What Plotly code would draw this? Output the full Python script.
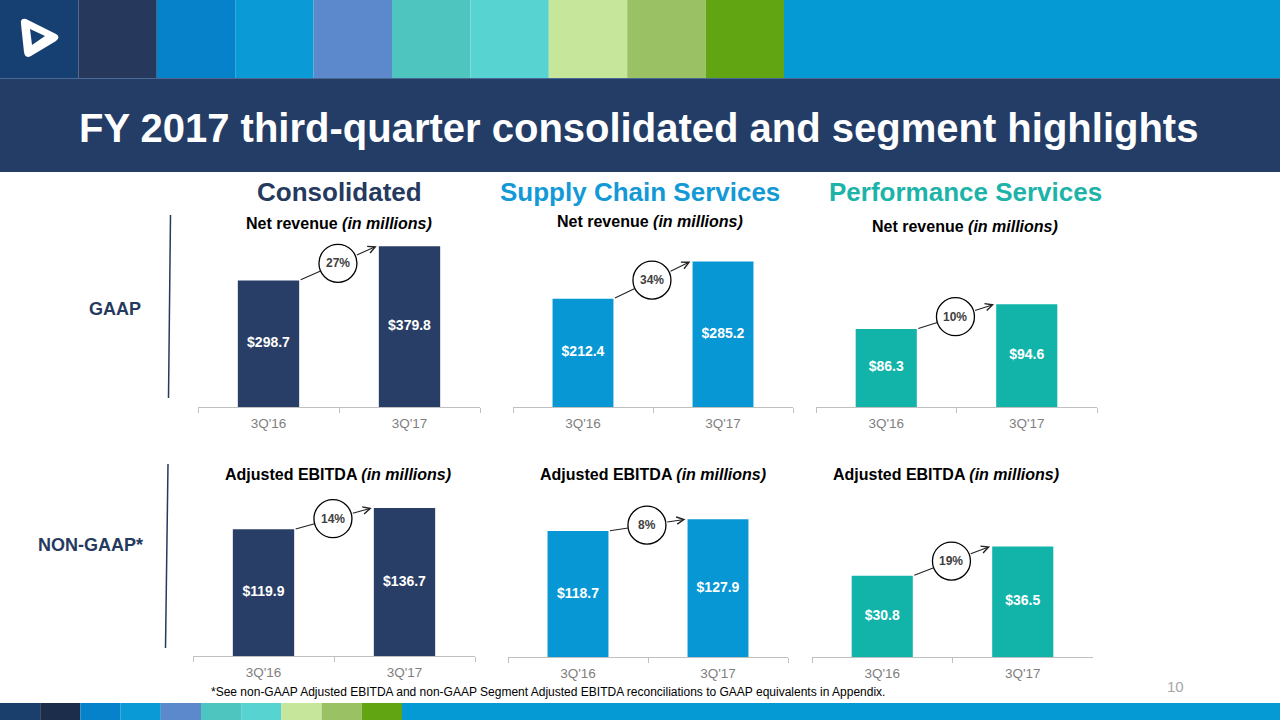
import plotly.graph_objects as go

W, H = 1280, 720

# ---------------- data ----------------
quarters = ["3Q'16", "3Q'17"]
consolidated_revenue = [298.7, 379.8]
scs_revenue = [212.4, 285.2]
ps_revenue = [86.3, 94.6]
consolidated_ebitda = [119.9, 136.7]
scs_ebitda = [118.7, 127.9]
ps_ebitda = [30.8, 36.5]
revenue_growth = ["27%", "34%", "10%"]
ebitda_growth = ["14%", "8%", "19%"]
section_titles = ["Consolidated", "Supply Chain Services", "Performance Services"]
row_labels = ["GAAP", "NON-GAAP*"]
title_text = "FY 2017 third-quarter consolidated and segment highlights"
footnote_text = ("*See non-GAAP Adjusted EBITDA and non-GAAP Segment Adjusted EBITDA "
                 "reconciliations to GAAP equivalents in Appendix.")
page_number = "10"

# ---------------- styles ----------------
FONT = "Liberation Sans, Arial, sans-serif"
NAVY = "#283e66"
BLUE = "#0797d5"
TEAL = "#12b4aa"
HEADER_NAVY = "#253a5e"
STRIPE = ["#174072", "#26395c", "#0582ca", "#0a9bd6", "#5c88cc",
          "#4fc5bf", "#57d4d1", "#c6e69c", "#9ac163", "#62a513"]
STRIPE_END = "#069ad5"


def px(x):
    return x / W


def py(y):
    return 1 - y / H


# (values, growth label, colour, x-domain px, y-domain px (top, bottom), y-range)
panels = [
    (consolidated_revenue, revenue_growth[0], NAVY, (198, 480), (240, 407), (0, 394.3)),
    (scs_revenue, revenue_growth[1], BLUE, (513, 793), (240, 407), (0, 327.5)),
    (ps_revenue, revenue_growth[2], TEAL, (816, 1097), (240, 407), (60, 116.3)),
    (consolidated_ebitda, ebitda_growth[0], NAVY, (193, 475), (495, 656), (20, 147.0)),
    (scs_ebitda, ebitda_growth[1], BLUE, (508, 788), (495, 657), (20, 146.9)),
    (ps_ebitda, ebitda_growth[2], TEAL, (812, 1093), (495, 657), (15, 46.5)),
]

BAR_W = 0.435
R = 19  # circle radius px

fig = go.Figure()
layout = dict(
    width=W, height=H, margin=dict(l=0, r=0, t=0, b=0),
    paper_bgcolor="white", plot_bgcolor="rgba(0,0,0,0)",
    showlegend=False, font=dict(family=FONT),
)
shapes = []
annotations = []

for i, (vals, growth, color, (xa, xb), (yt, yb), yr) in enumerate(panels):
    n = "" if i == 0 else str(i + 1)
    xref, yref = "x" + n, "y" + n
    fig.add_trace(go.Bar(
        x=quarters, y=vals, width=BAR_W, marker=dict(color=color, line=dict(width=0)),
        xaxis=xref, yaxis=yref, hovertemplate="%{x}: $%{y:.1f}<extra></extra>",
    ))
    lo = max(yr[0], 0)
    fig.add_trace(go.Scatter(
        x=quarters, y=[(lo + v) / 2 for v in vals], mode="text",
        text=["<b>$%.1f</b>" % v for v in vals],
        textfont=dict(family=FONT, size=14, color="white"),
        xaxis=xref, yaxis=yref, hoverinfo="skip",
    ))
    layout["xaxis" + n] = dict(
        domain=[px(xa), px(xb)], anchor=yref, type="category", range=[-0.5, 1.5],
        showline=True, linecolor="#c0c0c0", linewidth=1,
        ticks="outside", tickson="boundaries", ticklen=5, tickcolor="#c0c0c0",
        ticklabelstandoff=4,
        tickfont=dict(family=FONT, size=13.5, color="#7f7f7f"),
        showgrid=False, zeroline=False, fixedrange=True,
    )
    layout["yaxis" + n] = dict(
        domain=[py(yb), py(yt)], anchor=xref, range=list(yr), visible=False,
        showgrid=False, zeroline=False, fixedrange=True,
    )
    # growth circle + arrows
    sx, sy = BAR_W / 2, vals[0]
    tx, ty = 1 - BAR_W / 2 - 0.015, vals[1]
    cx, cy = (sx + tx) / 2, (sy + ty) / 2
    shapes.append(dict(type="circle", xref=xref, yref=yref, xsizemode="pixel",
                       ysizemode="pixel", xanchor=cx, yanchor=cy,
                       x0=-R, x1=R, y0=-R, y1=R, fillcolor="white",
                       line=dict(color="black", width=1.3), layer="above"))
    annotations.append(dict(x=cx, y=cy, xref=xref, yref=yref, text="<b>%s</b>" % growth,
                            showarrow=False, font=dict(family=FONT, size=12, color="#404040")))
    annotations.append(dict(x=cx, y=cy, xref=xref, yref=yref, ax=sx, ay=sy,
                            axref=xref, ayref=yref, text="", showarrow=True,
                            arrowhead=0, arrowwidth=1.1, arrowcolor="#222222", standoff=R))
    annotations.append(dict(x=tx, y=ty, xref=xref, yref=yref, ax=cx, ay=cy,
                            axref=xref, ayref=yref, text="", showarrow=True,
                            arrowhead=5, arrowsize=1.3, arrowwidth=1.1,
                            arrowcolor="#222222", startstandoff=R))

# ---------------- header graphics ----------------
bw = 78.4
for k, c in enumerate(STRIPE):
    shapes.append(dict(type="rect", xref="paper", yref="paper", x0=px(k * bw), x1=px((k + 1) * bw),
                       y0=py(78), y1=py(0), fillcolor=c, line=dict(width=0), layer="below"))
shapes.append(dict(type="rect", xref="paper", yref="paper", x0=px(10 * bw), x1=1,
                   y0=py(78), y1=py(0), fillcolor=STRIPE_END, line=dict(width=0), layer="below"))
# title band
shapes.append(dict(type="rect", xref="paper", yref="paper", x0=0, x1=1,
                   y0=py(172), y1=py(78), fillcolor="#233d66", line=dict(width=0), layer="below"))
shapes.append(dict(type="line", xref="paper", yref="paper", x0=0, x1=1,
                   y0=py(78.5), y1=py(78.5), line=dict(color="#4a6a95", width=1), layer="below"))


# logo (rounded triangle with triangular hole)
def P(x, y):
    return "%.5f,%.5f" % (px(x), py(y))


logo = ("M" + P(26, 19) + " Q" + P(20, 18) + " " + P(21, 24)
        + " L" + P(24, 52) + " Q" + P(25, 59) + " " + P(31, 56)
        + " L" + P(56, 41) + " Q" + P(61, 37) + " " + P(56, 34) + " Z"
        + " M" + P(30, 29) + " L" + P(45, 36) + " L" + P(32, 45) + " Z")
shapes.append(dict(type="path", xref="paper", yref="paper", path=logo,
                   fillcolor="white", fillrule="evenodd", line=dict(width=0), layer="below"))

# bottom stripe
bw2 = 40.2
for k, c in enumerate(["#1a3f6c", "#1c2c4b"] + STRIPE[2:]):
    shapes.append(dict(type="rect", xref="paper", yref="paper", x0=px(k * bw2), x1=px((k + 1) * bw2),
                       y0=0, y1=py(703), fillcolor=c, line=dict(width=0), layer="below"))
shapes.append(dict(type="rect", xref="paper", yref="paper", x0=px(10 * bw2), x1=1,
                   y0=0, y1=py(703), fillcolor=STRIPE_END, line=dict(width=0), layer="below"))

# vertical separators
shapes.append(dict(type="line", xref="paper", yref="paper", x0=px(170.5), x1=px(168.5),
                   y0=py(215), y1=py(398), line=dict(color=HEADER_NAVY, width=1.5)))
shapes.append(dict(type="line", xref="paper", yref="paper", x0=px(168), x1=px(165.5),
                   y0=py(464), y1=py(648), line=dict(color=HEADER_NAVY, width=1.5)))


# ---------------- texts ----------------
def txt(x, y, s, size, color, anchor="center", bold=False):
    annotations.append(dict(x=px(x), y=py(y), xref="paper", yref="paper",
                            text=("<b>%s</b>" % s) if bold else s, showarrow=False,
                            xanchor=anchor, yanchor="middle",
                            font=dict(family=FONT, size=size, color=color)))


txt(77, 128, title_text, 40, "white", anchor="left", bold=True)
sec_colors = [HEADER_NAVY, "#1399d6", "#1db3a8"]
for x, s, c in zip([339, 640, 965], section_titles, sec_colors):
    txt(x, 192, s, 26, c, bold=True)
for x, y in zip([339, 650, 965], [223, 221, 226]):
    txt(x, y, "Net revenue <i>(in millions)</i>", 16, "black", bold=True)
for x in [338, 653, 946]:
    txt(x, 474, "Adjusted EBITDA <i>(in millions)</i>", 16, "black", bold=True)
txt(115, 309, row_labels[0], 18, HEADER_NAVY, bold=True)
txt(90, 545, row_labels[1], 18, HEADER_NAVY, bold=True)
txt(209, 692, footnote_text, 12, "black", anchor="left")
txt(1175, 686, page_number, 15, "#a6a6a6")

layout["shapes"] = shapes
layout["annotations"] = annotations
fig.update_layout(**layout)
fig.write_html("out.html", config={"displayModeBar": False},
               post_script="document.body.style.margin='0px';")
